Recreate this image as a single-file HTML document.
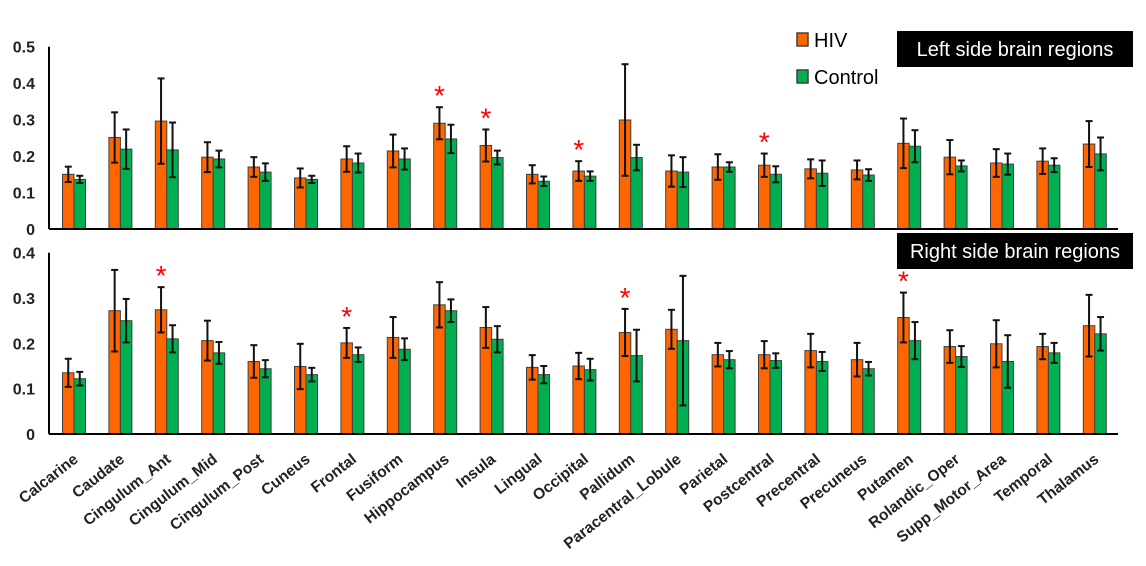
<!DOCTYPE html>
<html><head><meta charset="utf-8"><style>
body{margin:0;background:#fff;}
svg{display:block;font-family:"Liberation Sans",Arial,sans-serif;}
</style></head><body>
<svg id="chart" width="1146" height="566" xmlns="http://www.w3.org/2000/svg"></svg>
<script>
const categories=["Calcarine","Caudate","Cingulum_Ant","Cingulum_Mid","Cingulum_Post","Cuneus","Frontal","Fusiform","Hippocampus","Insula","Lingual","Occipital","Pallidum","Paracentral_Lobule","Parietal","Postcentral","Precentral","Precuneus","Putamen","Rolandic_Oper","Supp_Motor_Area","Temporal","Thalamus"];
const leftHIV=[0.150,0.251,0.296,0.197,0.170,0.140,0.192,0.214,0.290,0.229,0.150,0.159,0.299,0.159,0.170,0.175,0.165,0.162,0.235,0.197,0.181,0.186,0.233];
const leftHIVErr=[0.021,0.069,0.117,0.041,0.027,0.026,0.035,0.045,0.044,0.044,0.025,0.027,0.153,0.043,0.035,0.032,0.026,0.026,0.068,0.047,0.038,0.035,0.063];
const leftCtl=[0.136,0.219,0.217,0.192,0.156,0.136,0.181,0.192,0.247,0.196,0.131,0.145,0.196,0.156,0.170,0.150,0.153,0.148,0.227,0.173,0.178,0.175,0.206];
const leftCtlErr=[0.010,0.054,0.075,0.023,0.024,0.010,0.026,0.029,0.039,0.019,0.013,0.013,0.035,0.041,0.013,0.022,0.035,0.016,0.044,0.015,0.029,0.019,0.045];
const rightHIV=[0.135,0.272,0.274,0.206,0.160,0.149,0.201,0.213,0.285,0.235,0.147,0.150,0.224,0.231,0.175,0.175,0.184,0.164,0.257,0.193,0.199,0.193,0.239];
const rightHIVErr=[0.031,0.090,0.050,0.044,0.036,0.050,0.033,0.045,0.050,0.045,0.027,0.029,0.052,0.043,0.026,0.030,0.037,0.037,0.055,0.036,0.052,0.028,0.068];
const rightCtl=[0.122,0.250,0.210,0.179,0.144,0.131,0.175,0.187,0.272,0.209,0.131,0.142,0.173,0.206,0.164,0.162,0.160,0.144,0.206,0.171,0.160,0.179,0.221];
const rightCtlErr=[0.015,0.048,0.030,0.024,0.019,0.015,0.016,0.024,0.025,0.029,0.019,0.024,0.057,0.143,0.019,0.016,0.021,0.015,0.041,0.023,0.058,0.022,0.037];
const leftSig=["Hippocampus","Insula","Occipital","Postcentral"];
const rightSig=["Cingulum_Ant","Frontal","Pallidum","Putamen"];
const leftTicks=[0,0.1,0.2,0.3,0.4,0.5];
const rightTicks=[0,0.1,0.2,0.3,0.4];

const NS="http://www.w3.org/2000/svg";
const svg=document.getElementById('chart');
function mk(tag,attrs,parent){const e=document.createElementNS(NS,tag);for(const k in attrs)e.setAttribute(k,attrs[k]);(parent||svg).appendChild(e);return e;}
const x0=49,x1=1118,n=categories.length;
const step=46.4;
function xc(i){return 74+step*i;}
const barW=11.5;

function panel(yZero,yTop,maxV,hiv,hivE,ctl,ctlE,ticks,sig,name){
  const g=mk('g',{});
  
  
  const y=v=>yZero-(v/maxV)*(yZero-yTop);
  ticks.forEach(t=>{
    const tx=mk('text',{x:35,y:y(t)+6,'text-anchor':'end','font-size':16,'font-weight':'bold',fill:'#222'},g);
    
    
    tx.textContent=t===0?'0':String(t);
  });
  const ax=mk('line',{x1:x0,y1:yTop,x2:x0,y2:yZero,stroke:'#000','stroke-width':2},g);
  
  
  for(let i=0;i<n;i++){
    const c=xc(i);
    [[hiv,hivE,'#ff6600',c-barW,'bar-hiv'],[ctl,ctlE,'#00b050',c,'bar-control']].forEach(([vals,errs,col,bx,nm])=>{
      const v=vals[i],e=errs[i];
      const r=mk('rect',{x:bx,y:y(v),width:barW,height:yZero-y(v),fill:col,stroke:'#404040','stroke-width':1},g);
      
      
      const ex=bx+barW/2;
      const eg=mk('g',{stroke:'#111','stroke-width':2},g);
      
      
      mk('line',{x1:ex,y1:y(v+e),x2:ex,y2:y(v-e)},eg);
      mk('line',{x1:ex-3.5,y1:y(v+e),x2:ex+3.5,y2:y(v+e)},eg);
      mk('line',{x1:ex-3.5,y1:y(v-e),x2:ex+3.5,y2:y(v-e)},eg);
    });
    if(sig.includes(categories[i])){
      const s=mk('text',{x:c-barW/2,y:y(hiv[i]+hivE[i])-2,'text-anchor':'middle','font-size':28,fill:'#ff0000'},g);
      
      
      s.textContent='*';
    }
  }
  const bx=mk('line',{x1:x0,y1:yZero,x2:x1,y2:yZero,stroke:'#000','stroke-width':2},g);
  
  
}
panel(229,46.7,0.5,leftHIV,leftHIVErr,leftCtl,leftCtlErr,leftTicks,leftSig,'left-panel');
panel(434,252.7,0.4,rightHIV,rightHIVErr,rightCtl,rightCtlErr,rightTicks,rightSig,'right-panel');

categories.forEach((c,i)=>{
  const ax=xc(i)+5, ay=461;
  const t=mk('text',{x:ax,y:ay,'text-anchor':'end','font-size':15.5,'font-weight':'bold',fill:'#222',transform:`rotate(-38 ${ax} ${ay})`});
  
  
  t.textContent=c;
});

[['HIV','#ff6600',40],['Control','#00b050',77]].forEach(([lab,col,ly])=>{
  const g=mk('g',{});
  
  
  mk('rect',{x:797,y:ly-7,width:11,height:13,fill:col,stroke:'#404040','stroke-width':1.5},g);
  const t=mk('text',{x:814,y:ly+7,'font-size':20,fill:'#000'},g);
  t.textContent=lab;
});
[['Left side brain regions',31,'left-title'],['Right side brain regions',233,'right-title']].forEach(([lab,ty,nm])=>{
  const g=mk('g',{});
  
  
  mk('rect',{x:897,y:ty,width:236,height:36,fill:'#000'},g);
  const t=mk('text',{x:1015,y:ty+25,'text-anchor':'middle','font-size':20,fill:'#fff'},g);
  t.textContent=lab;
});
</script>
</body></html>
